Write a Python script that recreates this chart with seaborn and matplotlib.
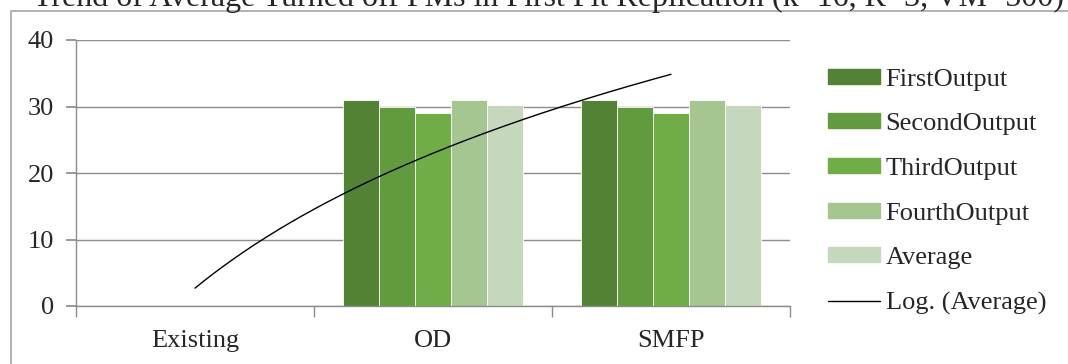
import numpy as np
import pandas as pd
import matplotlib
matplotlib.use("Agg")
import matplotlib.pyplot as plt
from matplotlib.lines import Line2D
from matplotlib.patches import Rectangle
import seaborn as sns

# ── Data ──────────────────────────────────────────────────────────────────────
CATEGORIES = ["Existing", "OD", "SMFP"]
SERIES     = ["FirstOutput", "SecondOutput", "ThirdOutput", "FourthOutput", "Average"]
FIRST      = [0, 31, 31]
SECOND     = [0, 30, 30]
THIRD      = [0, 29, 29]
FOURTH     = [0, 31, 31]
AVERAGE    = [0, 30.25, 30.25]
Y_TICKS    = [0, 10, 20, 30, 40]
TITLE      = "Trend of Average Turned off PMs in First Fit Replication (k=16, R=3, VM=500)"

COLORS = ["#548235", "#629A3E", "#70AD47", "#A5C591", "#C5D8BD"]

sns.set_theme(style="white")
plt.rcParams["font.family"] = ["Liberation Serif", "DejaVu Serif"]

df = pd.DataFrame({
    "cat": CATEGORIES * 5,
    "series": np.repeat(SERIES, 3),
    "val": FIRST + SECOND + THIRD + FOURTH + AVERAGE,
})

fig = plt.figure(figsize=(10.68, 3.64), dpi=100)
ax = fig.add_axes([76 / 1068, 1 - 306 / 364, 714 / 1068, 266 / 364])

sns.barplot(data=df, x="cat", y="val", hue="series", palette=COLORS,
            width=0.76, ax=ax, edgecolor="white", linewidth=0.6,
            saturation=1, legend=False)

# logarithmic trendline fitted on the Average series (Excel style)
xi = np.arange(1, len(CATEGORIES) + 1)
b, a = np.polyfit(np.log(xi), AVERAGE, 1)
xs = np.linspace(1, len(CATEGORIES), 200)
ax.plot(xs - 1, a + b * np.log(xs), color="black", lw=1.0)

ax.set_xlim(-0.5, len(CATEGORIES) - 0.5)
ax.set_ylim(0, 40)
ax.set_yticks(Y_TICKS)
ax.set_xlabel("")
ax.set_ylabel("")
ax.yaxis.grid(True, color="#8C8C8C", lw=1.0)
ax.set_axisbelow(True)
for s in ["top", "right"]:
    ax.spines[s].set_visible(False)
for s in ["left", "bottom"]:
    ax.spines[s].set_color("#8C8C8C")
    ax.spines[s].set_linewidth(1.0)

ax.tick_params(axis="y", length=7, color="#8C8C8C", labelsize=19, pad=9, left=True)
ax.tick_params(axis="x", length=0, labelsize=19, pad=17)
ax.set_xticks(np.arange(-0.5, len(CATEGORIES), 1.0), minor=True)
ax.tick_params(axis="x", which="minor", length=8, color="#8C8C8C", bottom=True)

handles = [Rectangle((0, 0), 1, 1, color=c) for c in COLORS]
handles.append(Line2D([0], [0], color="black", lw=1.0))
labels = SERIES + ["Log. (Average)"]
fig.legend(handles, labels, loc="upper left", bbox_to_anchor=(817 / 1068, 1 - 58 / 364),
           frameon=False, fontsize=19, handlelength=2.0, handleheight=0.5,
           handletextpad=0.2, labelspacing=0.86, borderaxespad=0)

# outer chart border and clipped title
fig.patches.append(Rectangle((11 / 1068, -0.05), 1.1, 1 - 10.5 / 364 + 0.05,
                             transform=fig.transFigure, fill=False,
                             edgecolor="#A6A6A6", lw=1.2))
fig.text(33 / 1068, 1 - 6 / 364, TITLE, fontsize=23, va="baseline", ha="left")

fig.savefig("out.png", dpi=100)
